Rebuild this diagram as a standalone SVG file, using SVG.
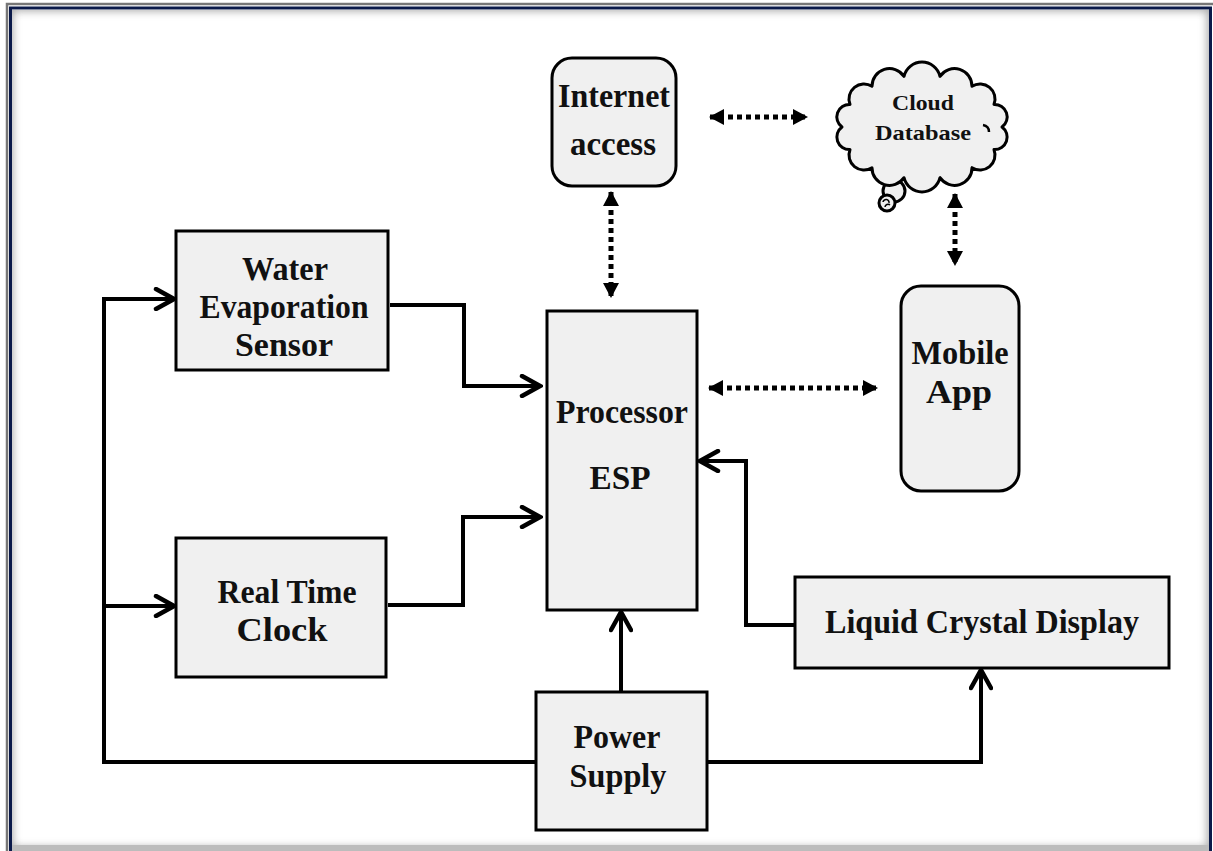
<svg xmlns="http://www.w3.org/2000/svg" width="1213" height="851" viewBox="0 0 1213 851">
  <style>
    .box { fill: #f0f0f0; stroke: #000; stroke-width: 3; }
    .lbl { font-family: "Liberation Serif", "Times New Roman", serif; font-weight: bold; font-size: 34px; fill: #111; text-anchor: middle; }
    .small { font-size: 22px; }
    .wire { fill: none; stroke: #000; stroke-width: 4; stroke-linejoin: miter; }
    .dots { fill: none; stroke: #000; stroke-width: 5; stroke-dasharray: 5 4; }
  </style>
  <defs>
    <marker id="chev" markerUnits="userSpaceOnUse" viewBox="0 0 24 24" refX="21" refY="12" markerWidth="24" markerHeight="24" orient="auto">
      <path d="M3,2 L21,12 L3,22" fill="none" stroke="#000" stroke-width="4.5" stroke-linecap="round" stroke-linejoin="miter"/>
    </marker>
    <marker id="tri" markerUnits="userSpaceOnUse" viewBox="0 0 16 16" refX="14" refY="8" markerWidth="16" markerHeight="16" orient="auto-start-reverse">
      <path d="M0,0 L15,8 L0,16 Z" fill="#000"/>
    </marker>
    <clipPath id="inner">
      <rect x="12" y="10" width="1197" height="838"/>
    </clipPath>
    <filter id="soft" x="-5%" y="-5%" width="110%" height="110%">
      <feGaussianBlur stdDeviation="4"/>
    </filter>
  </defs>

  <!-- page frame -->
  <rect x="0" y="0" width="1213" height="851" fill="#fff"/>
  <g clip-path="url(#inner)">
    <rect x="8" y="6" width="1204" height="846" fill="none" stroke="#a8a8a8" stroke-width="10" filter="url(#soft)"/>
  </g>
  <rect x="7" y="4" width="1210" height="850" fill="none" stroke="#777" stroke-width="2.5"/>
  <rect x="10.5" y="8" width="1200" height="843" fill="none" stroke="#0b1a4a" stroke-width="3"/>
  <rect x="12" y="845" width="1197" height="6" fill="#bcbcbc"/>

  <!-- connectors -->
  <g id="connectors">
    <!-- power distribution -->
    <polyline class="wire" points="536,762 104,762 104,299 174,299" marker-end="url(#chev)"/>
    <polyline class="wire" points="104,606 174,606" marker-end="url(#chev)"/>
    <polyline class="wire" points="621,692 621,612" marker-end="url(#chev)"/>
    <polyline class="wire" points="708,762 981,762 981,670" marker-end="url(#chev)"/>
    <!-- data into processor -->
    <polyline class="wire" points="390,305 464,305 464,386 540,386" marker-end="url(#chev)"/>
    <polyline class="wire" points="388,605 463,605 463,517 540,517" marker-end="url(#chev)"/>
    <polyline class="wire" points="795,625 746,625 746,461 700,461" marker-end="url(#chev)"/>
    <!-- wireless links -->
    <line class="dots" x1="611" y1="192" x2="611" y2="297" marker-start="url(#tri)" marker-end="url(#tri)"/>
    <line class="dots" x1="710" y1="117" x2="807" y2="117" marker-start="url(#tri)" marker-end="url(#tri)"/>
    <line class="dots" x1="955" y1="194" x2="955" y2="265" marker-start="url(#tri)" marker-end="url(#tri)"/>
    <line class="dots" x1="709" y1="388" x2="877" y2="388" marker-start="url(#tri)" marker-end="url(#tri)"/>
  </g>

  <!-- nodes -->
  <g id="internet">
    <rect class="box" x="552" y="58" width="124" height="128" rx="20"/>
    <text class="lbl" x="614" y="107" textLength="112" lengthAdjust="spacingAndGlyphs">Internet</text>
    <text class="lbl" x="613" y="155" textLength="86" lengthAdjust="spacingAndGlyphs">access</text>
  </g>

  <g id="cloud">
    <circle cx="894" cy="191" r="11" fill="#f0f0f0" stroke="#000" stroke-width="3"/>
    <path d="M842,127 A12.5,12.5 0 0 1 850,104.4 A15,15 0 0 1 872,86.3 A17.5,17.5 0 0 1 904,76.3 A18.5,18.5 0 0 1 940,76.3 A17.5,17.5 0 0 1 972,86.3 A15,15 0 0 1 994,104.4 A12.5,12.5 0 0 1 1002,127 A12.5,12.5 0 0 1 994,149.6 A15,15 0 0 1 972,167.7 A17.5,17.5 0 0 1 940,177.7 A18.5,18.5 0 0 1 904,177.7 A17.5,17.5 0 0 1 872,167.7 A15,15 0 0 1 850,149.6 A12.5,12.5 0 0 1 842,127 Z" fill="#f0f0f0" stroke="#000" stroke-width="3" stroke-linejoin="round"/>
    <circle cx="887" cy="203" r="8" fill="#f0f0f0" stroke="#000" stroke-width="3"/>
    <path d="M883,202 a3,3 0 1 1 6,1 M885,207 a3,3 0 0 1 5,-2" fill="none" stroke="#000" stroke-width="1.5"/>
    <path d="M983,125 q6,1 6,7" fill="none" stroke="#000" stroke-width="2.5"/>
    <text class="lbl small" x="923" y="110" textLength="62" lengthAdjust="spacingAndGlyphs">Cloud</text>
    <text class="lbl small" x="923" y="140" textLength="96" lengthAdjust="spacingAndGlyphs">Database</text>
  </g>

  <g id="mobile-app">
    <rect class="box" x="901" y="286" width="118" height="205" rx="20"/>
    <text class="lbl" x="960" y="364" textLength="97" lengthAdjust="spacingAndGlyphs">Mobile</text>
    <text class="lbl" x="959" y="403" textLength="66" lengthAdjust="spacingAndGlyphs">App</text>
  </g>

  <g id="water-sensor">
    <rect class="box" x="176" y="231" width="212" height="139"/>
    <text class="lbl" x="285" y="280" textLength="86" lengthAdjust="spacingAndGlyphs">Water</text>
    <text class="lbl" x="284" y="318" textLength="169" lengthAdjust="spacingAndGlyphs">Evaporation</text>
    <text class="lbl" x="284" y="356" textLength="98" lengthAdjust="spacingAndGlyphs">Sensor</text>
  </g>

  <g id="processor">
    <rect class="box" x="547" y="311" width="150" height="299"/>
    <text class="lbl" x="622" y="423" textLength="132" lengthAdjust="spacingAndGlyphs">Processor</text>
    <text class="lbl" x="620" y="489" textLength="61" lengthAdjust="spacingAndGlyphs">ESP</text>
  </g>

  <g id="rtc">
    <rect class="box" x="176" y="538" width="210" height="139"/>
    <text class="lbl" x="287" y="603" textLength="139" lengthAdjust="spacingAndGlyphs">Real Time</text>
    <text class="lbl" x="282" y="641" textLength="91" lengthAdjust="spacingAndGlyphs">Clock</text>
  </g>

  <g id="lcd">
    <rect class="box" x="795" y="577" width="374" height="91"/>
    <text class="lbl" x="982" y="633" textLength="314" lengthAdjust="spacingAndGlyphs">Liquid Crystal Display</text>
  </g>

  <g id="power-supply">
    <rect class="box" x="536" y="692" width="171" height="138"/>
    <text class="lbl" x="617" y="748" textLength="87" lengthAdjust="spacingAndGlyphs">Power</text>
    <text class="lbl" x="618" y="787" textLength="97" lengthAdjust="spacingAndGlyphs">Supply</text>
  </g>
</svg>
